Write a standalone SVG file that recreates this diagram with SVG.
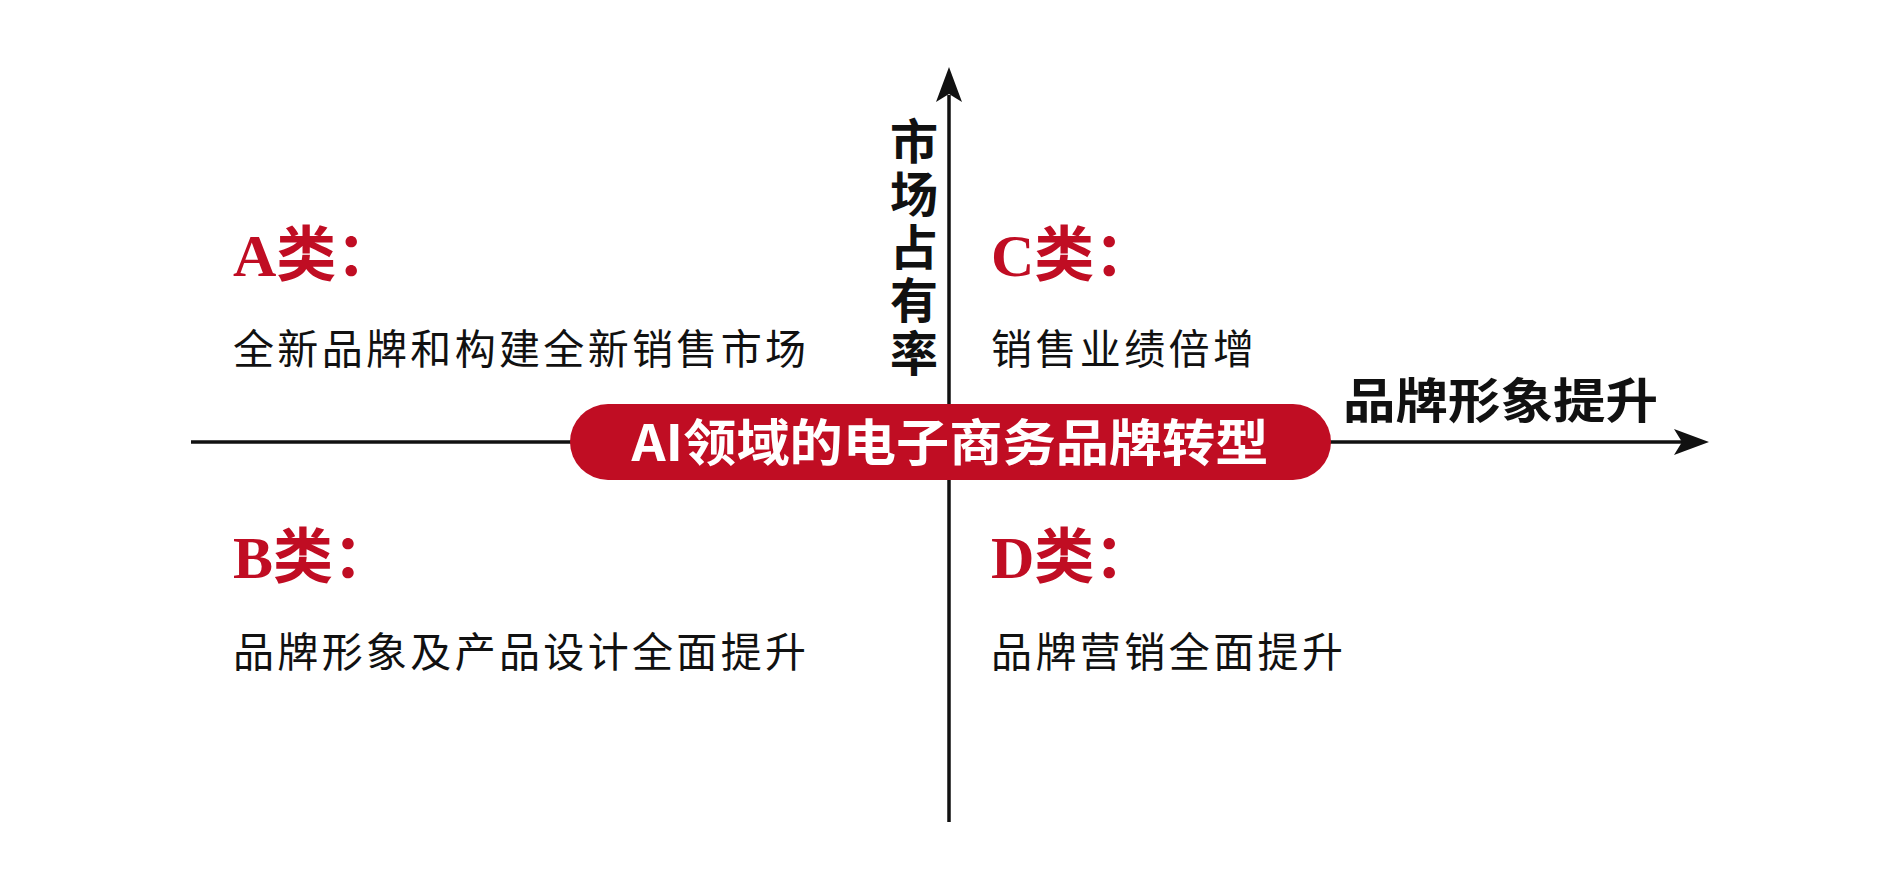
<svg xmlns="http://www.w3.org/2000/svg" width="1900" height="884" viewBox="0 0 1900 884">
<style>
.cat{font-family:"Liberation Serif","Noto Sans CJK SC",serif;font-weight:bold;font-size:60px;fill:#c00d23}
.desc{font-family:"Noto Sans CJK SC",sans-serif;font-size:41px;fill:#111}
.axis{font-family:"Noto Sans CJK SC",sans-serif;font-weight:bold;font-size:48px;fill:#111}
.ln{stroke:#111;stroke-width:3.5;fill:none}
</style>
<rect width="1900" height="884" fill="#fff"/>
<g id="connectors">
<line class="ln" x1="949" y1="95" x2="949" y2="822"/>
<polygon points="949,67 962,102 949,94 936,102" fill="#111"/>
<line class="ln" x1="191" y1="442" x2="1682" y2="442"/>
<polygon points="1709,442 1674,429 1682,442 1674,455" fill="#111"/>
</g>
<g id="center">
<rect x="570" y="404" width="761" height="76" rx="38" fill="#c00d23"/>
<text x="950" y="461" text-anchor="middle" font-family="'Noto Sans CJK SC',sans-serif" font-weight="bold" font-size="50" fill="#fff" textLength="637" lengthAdjust="spacingAndGlyphs">AI领域的电子商务品牌转型</text>
</g>
<g id="yaxis-label"><text class="axis" x="914" y="117" writing-mode="vertical-rl" letter-spacing="5">市场占有率</text></g>
<g id="xaxis-label"><text class="axis" x="1343" y="418" textLength="315" lengthAdjust="spacingAndGlyphs">品牌形象提升</text></g>
<g id="A"><text class="cat" x="233" y="276">A类：</text><text class="desc" x="233" y="364" textLength="573">全新品牌和构建全新销售市场</text></g>
<g id="C"><text class="cat" x="991" y="276">C类：</text><text class="desc" x="991" y="364" textLength="263">销售业绩倍增</text></g>
<g id="B"><text class="cat" x="233" y="578">B类：</text><text class="desc" x="233" y="667" textLength="573">品牌形象及产品设计全面提升</text></g>
<g id="D"><text class="cat" x="991" y="578">D类：</text><text class="desc" x="991" y="667" textLength="352">品牌营销全面提升</text></g>
</svg>
